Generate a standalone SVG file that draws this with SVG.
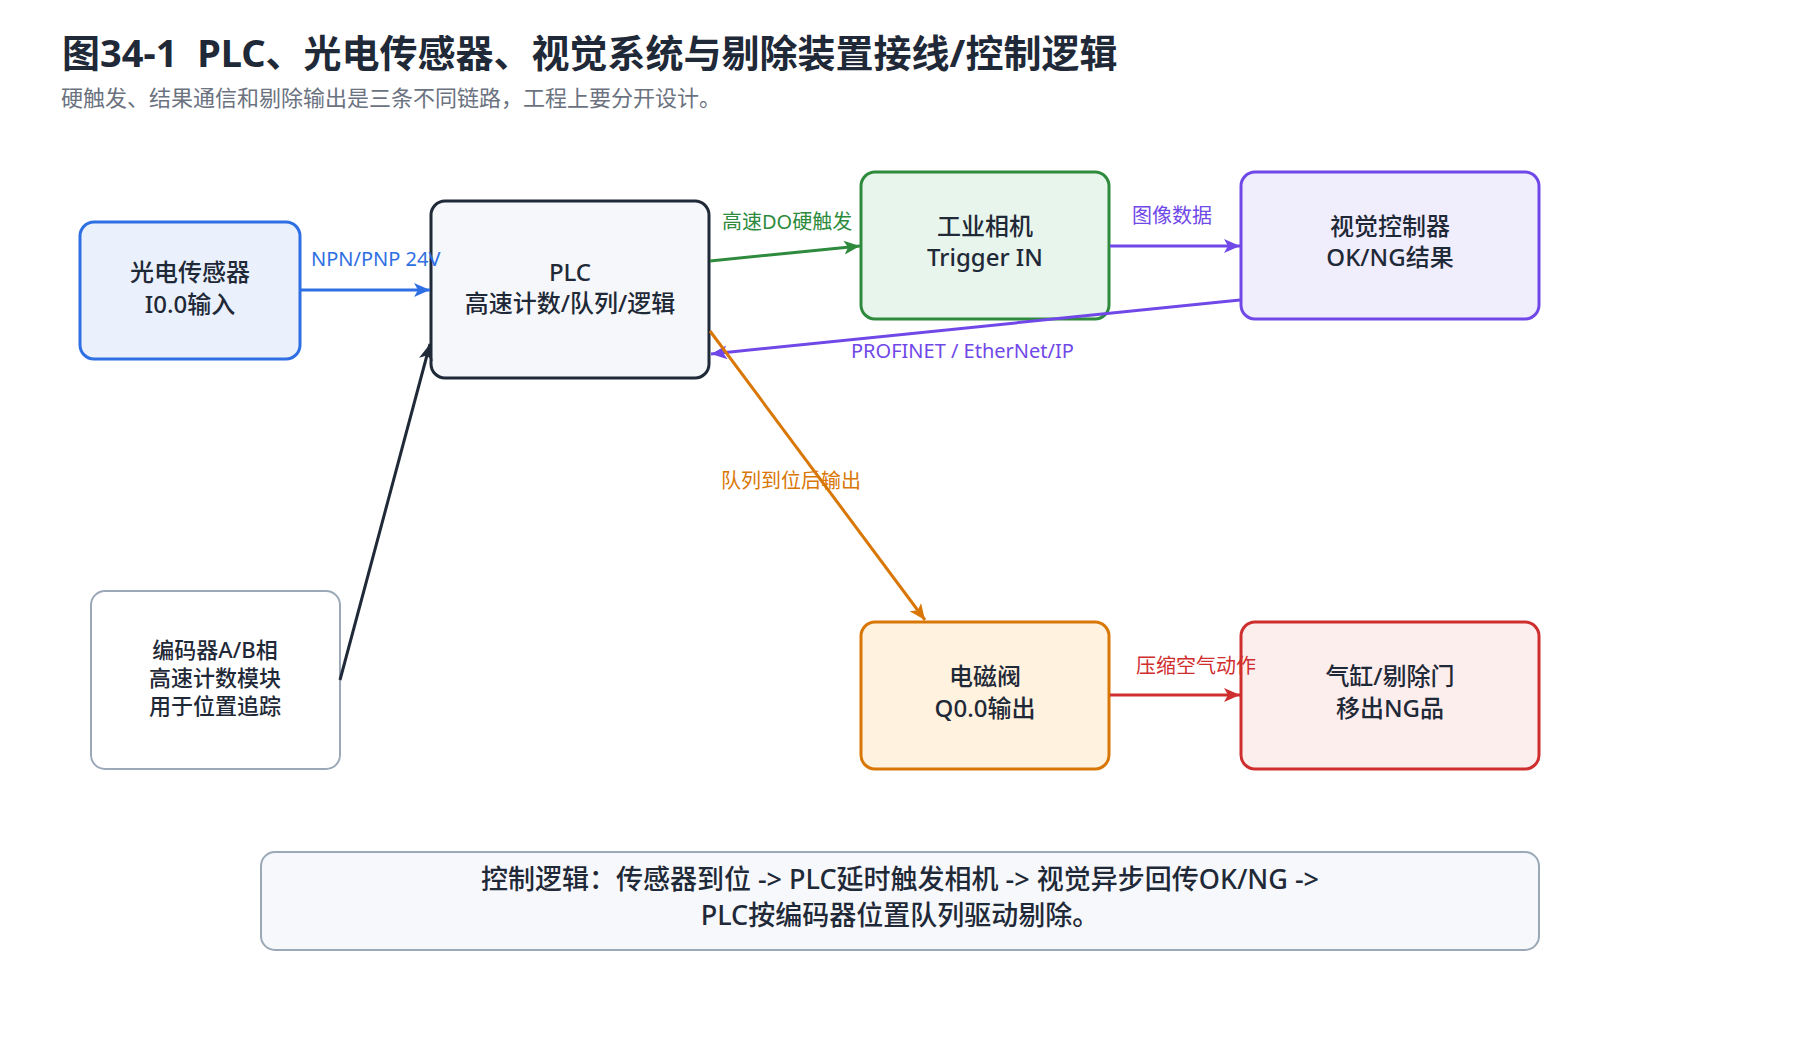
<svg xmlns="http://www.w3.org/2000/svg" width="1800" height="1050" viewBox="0 0 1800 1050">
<style>
text{font-family:"Noto Sans","Noto Sans CJK SC",sans-serif;}
.title{font-size:38px;font-weight:700;fill:#1f2937;}
.sub{font-size:22px;fill:#6b7280;}
.nt{font-size:24px;font-weight:500;fill:#1f2937;text-anchor:middle;}
.nts{font-size:22px;font-weight:500;fill:#1f2937;text-anchor:middle;}
.bt{font-size:27px;font-weight:500;fill:#1f2937;text-anchor:middle;}
.lb{font-size:20px;}
.box{stroke-width:3;}
.edge{fill:none;stroke-width:3;}
</style>
<defs>
<marker id="ab" markerUnits="userSpaceOnUse" markerWidth="16" markerHeight="14" refX="16" refY="7" orient="auto"><path d="M0,0 L16,7 L0,14 L4,7 Z" fill="#2f6fe4"/></marker>
<marker id="ag" markerUnits="userSpaceOnUse" markerWidth="16" markerHeight="14" refX="16" refY="7" orient="auto"><path d="M0,0 L16,7 L0,14 L4,7 Z" fill="#2e8b3e"/></marker>
<marker id="ap" markerUnits="userSpaceOnUse" markerWidth="16" markerHeight="14" refX="16" refY="7" orient="auto"><path d="M0,0 L16,7 L0,14 L4,7 Z" fill="#7048e8"/></marker>
<marker id="ao" markerUnits="userSpaceOnUse" markerWidth="16" markerHeight="14" refX="16" refY="7" orient="auto"><path d="M0,0 L16,7 L0,14 L4,7 Z" fill="#d97706"/></marker>
<marker id="ar" markerUnits="userSpaceOnUse" markerWidth="16" markerHeight="14" refX="16" refY="7" orient="auto"><path d="M0,0 L16,7 L0,14 L4,7 Z" fill="#cf2e2e"/></marker>
<marker id="ad" markerUnits="userSpaceOnUse" markerWidth="16" markerHeight="14" refX="16" refY="7" orient="auto"><path d="M0,0 L16,7 L0,14 L4,7 Z" fill="#1f2937"/></marker>
</defs>
<rect width="1800" height="1050" fill="#ffffff"/>
<text class="title" x="62" y="67" xml:space="preserve">图34-1  PLC、光电传感器、视觉系统与剔除装置接线/控制逻辑</text>
<text class="sub" x="61" y="106">硬触发、结果通信和剔除输出是三条不同链路，工程上要分开设计。</text>

<g id="sensor">
<rect class="box" x="80" y="222" width="220" height="137" rx="14" fill="#eaf1fd" stroke="#2f6fe4"/>
<text class="nt" x="190" y="281">光电传感器</text>
<text class="nt" x="190" y="313">I0.0输入</text>
</g>
<g id="plc">
<rect class="box" x="431" y="201" width="278" height="177" rx="14" fill="#f5f7fb" stroke="#1f2937"/>
<text class="nt" x="570" y="281">PLC</text>
<text class="nt" x="570" y="312">高速计数/队列/逻辑</text>
</g>
<g id="camera">
<rect class="box" x="861" y="172" width="248" height="147" rx="14" fill="#e8f5ec" stroke="#2e8b3e"/>
<text class="nt" x="985" y="235">工业相机</text>
<text class="nt" x="985" y="266">Trigger IN</text>
</g>
<g id="vision">
<rect class="box" x="1241" y="172" width="298" height="147" rx="14" fill="#f0edfd" stroke="#7048e8"/>
<text class="nt" x="1390" y="235">视觉控制器</text>
<text class="nt" x="1390" y="266">OK/NG结果</text>
</g>
<g id="encoder">
<rect x="91" y="591" width="249" height="178" rx="14" fill="#ffffff" stroke="#9aa8b8" stroke-width="2"/>
<text class="nts" x="215" y="658">编码器A/B相</text>
<text class="nts" x="215" y="686">高速计数模块</text>
<text class="nts" x="215" y="714">用于位置追踪</text>
</g>
<g id="valve">
<rect class="box" x="861" y="622" width="248" height="147" rx="14" fill="#fff2df" stroke="#d97706"/>
<text class="nt" x="985" y="685">电磁阀</text>
<text class="nt" x="985" y="717">Q0.0输出</text>
</g>
<g id="cylinder">
<rect class="box" x="1241" y="622" width="298" height="147" rx="14" fill="#fdeeee" stroke="#cf2e2e"/>
<text class="nt" x="1390" y="685">气缸/剔除门</text>
<text class="nt" x="1390" y="717">移出NG品</text>
</g>
<g id="logic">
<rect x="261" y="852" width="1278" height="98" rx="14" fill="#f6f8fb" stroke="#9aa8b8" stroke-width="2"/>
<text class="bt" x="900" y="889">控制逻辑：传感器到位 -&gt; PLC延时触发相机 -&gt; 视觉异步回传OK/NG -&gt;</text>
<text class="bt" x="900" y="925">PLC按编码器位置队列驱动剔除。</text>
</g>

<g id="edges">
<line class="edge" x1="300" y1="290" x2="430" y2="290" stroke="#2f6fe4" marker-end="url(#ab)"/>
<text class="lb" x="311" y="266" fill="#2f6fe4">NPN/PNP 24V</text>
<line class="edge" x1="710" y1="261" x2="860" y2="246" stroke="#2e8b3e" marker-end="url(#ag)"/>
<text class="lb" x="722" y="229" fill="#2e8b3e">高速DO硬触发</text>
<line class="edge" x1="1110" y1="246" x2="1240" y2="246" stroke="#7048e8" marker-end="url(#ap)"/>
<text class="lb" x="1132" y="223" fill="#7048e8">图像数据</text>
<line class="edge" x1="1240" y1="300" x2="711" y2="354" stroke="#7048e8" marker-end="url(#ap)"/>
<text class="lb" x="851" y="358" fill="#7048e8">PROFINET / EtherNet/IP</text>
<line class="edge" x1="710" y1="331" x2="925" y2="620" stroke="#d97706" marker-end="url(#ao)"/>
<text class="lb" x="721" y="488" fill="#d97706">队列到位后输出</text>
<line class="edge" x1="1110" y1="695" x2="1240" y2="695" stroke="#cf2e2e" marker-end="url(#ar)"/>
<text class="lb" x="1136" y="673" fill="#cf2e2e">压缩空气动作</text>
<line class="edge" x1="340" y1="680" x2="430" y2="344" stroke="#1f2937" marker-end="url(#ad)"/>
</g>
</svg>
